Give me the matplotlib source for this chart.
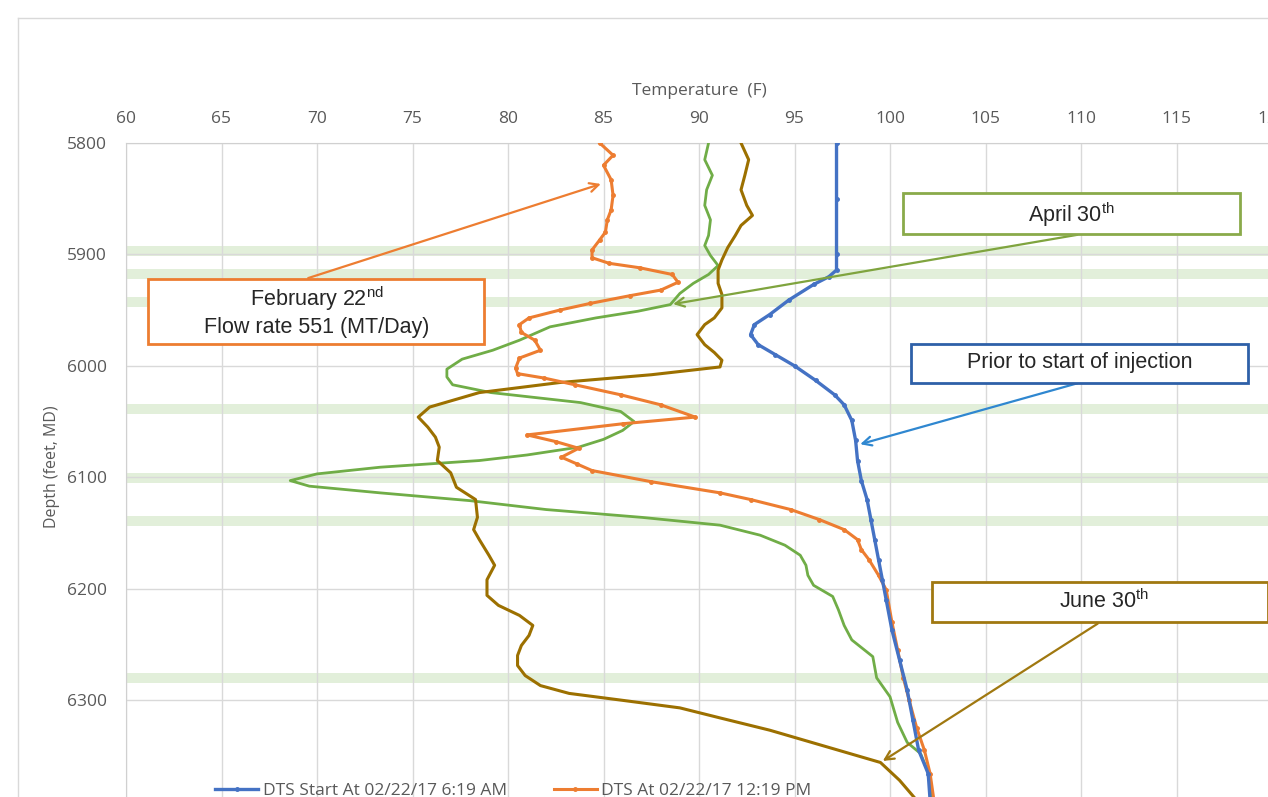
import matplotlib
matplotlib.use('Agg')
import matplotlib.pyplot as plt
from matplotlib.patches import Rectangle
from matplotlib.lines import Line2D

plt.rcParams['font.family'] = ['Open Sans', 'DejaVu Sans']
plt.rcParams['mathtext.fontset'] = 'custom'
plt.rcParams['mathtext.rm'] = 'Liberation Sans'

# 注入前 (蓝)
depth_blue = [5800, 5850, 5900, 5914, 5920, 5927, 5941, 5954, 5963, 5972, 5981, 5990, 6000, 6013,
              6026, 6035, 6049, 6067, 6085, 6103, 6120, 6138, 6156, 6174, 6192, 6210, 6237, 6264,
              6291, 6318, 6345, 6366, 6390]
temp_blue = [97.2, 97.2, 97.2, 97.2, 96.8, 96.0, 94.7, 93.7, 92.9, 92.7, 93.1, 94.0, 95.0, 96.1,
             97.1, 97.6, 98.0, 98.2, 98.3, 98.5, 98.8, 99.0, 99.2, 99.4, 99.6, 99.8, 100.1, 100.5,
             100.9, 101.2, 101.5, 102.0, 102.1]

# 2月22日 (橙)
depth_orange = [5800, 5811, 5820, 5833, 5847, 5860, 5869, 5880, 5887, 5896, 5903, 5908, 5912, 5918,
                5925, 5932, 5937, 5944, 5950, 5957, 5963, 5970, 5977, 5986, 5993, 6002, 6007, 6011,
                6017, 6026, 6035, 6046, 6052, 6062, 6068, 6074, 6082, 6088, 6094, 6104, 6114, 6120,
                6129, 6138, 6147, 6156, 6165, 6174, 6188, 6201, 6230, 6255, 6280, 6300, 6325, 6345,
                6366, 6390]
temp_orange = [84.8, 85.5, 85.0, 85.4, 85.5, 85.4, 85.2, 85.1, 84.8, 84.4, 84.4, 85.3, 86.9, 88.6,
               88.9, 88.0, 86.4, 84.3, 82.7, 81.1, 80.6, 80.7, 81.4, 81.7, 80.6, 80.4, 80.5, 81.9,
               83.5, 85.9, 88.0, 89.8, 86.0, 81.0, 82.5, 83.7, 82.8, 83.6, 84.4, 87.5, 91.1, 92.7,
               94.8, 96.3, 97.6, 98.3, 98.5, 98.9, 99.4, 99.8, 100.1, 100.4, 100.7, 101.0, 101.4, 101.8,
               102.1, 102.3]

# 4月30日 (绿)
depth_green = [5800, 5815, 5829, 5842, 5856, 5869, 5883, 5892, 5901, 5910, 5918, 5926, 5935, 5945,
               5951, 5957, 5965, 5977, 5986, 5994, 6003, 6010, 6017, 6024, 6033, 6041, 6050, 6058,
               6066, 6073, 6080, 6085, 6091, 6097, 6103, 6108, 6114, 6121, 6129, 6136, 6143, 6152,
               6161, 6170, 6179, 6188, 6197, 6207, 6219, 6233, 6246, 6261, 6280, 6297, 6320, 6338,
               6348, 6369, 6390]
temp_green = [90.5, 90.3, 90.7, 90.4, 90.3, 90.6, 90.5, 90.3, 90.6, 91.0, 90.5, 89.7, 89.0, 88.5,
              86.8, 84.6, 82.2, 80.6, 79.2, 77.6, 76.8, 76.8, 77.1, 79.1, 83.8, 85.9, 86.6, 86.0,
              85.0, 83.7, 81.0, 78.5, 73.3, 70.0, 68.6, 69.6, 73.3, 78.0, 82.0, 87.0, 91.1, 93.2,
              94.5, 95.3, 95.6, 95.7, 96.0, 97.0, 97.3, 97.6, 98.0, 99.1, 99.3, 100.0, 100.4, 100.9,
              101.6, 102.1, 102.2]

# 6月30日 (棕)
depth_brown = [5800, 5815, 5829, 5842, 5856, 5865, 5874, 5883, 5894, 5905, 5914, 5926, 5936, 5948,
               5957, 5963, 5972, 5981, 5988, 5995, 6001, 6008, 6015, 6024, 6037, 6046, 6055, 6064,
               6073, 6085, 6096, 6109, 6120, 6136, 6147, 6156, 6170, 6179, 6192, 6206, 6215, 6224,
               6233, 6242, 6251, 6260, 6269, 6278, 6287, 6294, 6300, 6307, 6316, 6327, 6340, 6356,
               6372, 6390]
temp_brown = [92.2, 92.6, 92.4, 92.2, 92.5, 92.8, 92.2, 91.9, 91.5, 91.2, 91.0, 91.0, 91.2, 91.2,
              90.8, 90.3, 89.9, 90.3, 90.8, 91.2, 91.1, 87.5, 82.7, 78.5, 75.9, 75.3, 75.8, 76.2,
              76.4, 76.3, 77.0, 77.3, 78.3, 78.4, 78.2, 78.5, 79.0, 79.3, 78.9, 78.9, 79.5, 80.6,
              81.3, 81.1, 80.7, 80.5, 80.5, 80.9, 81.7, 83.2, 85.9, 89.0, 91.1, 93.7, 96.3, 99.5,
              100.5, 101.4]

# 射孔层段 (绿色带)
band_depths = [5897, 5918, 5943, 6039, 6101, 6139, 6280]
band_half = 4.5

legend_labels = ['DTS Start At 02/22/17 6:19 AM', 'DTS At 02/22/17 12:19 PM']

c_blue = '#4472c4'
c_orange = '#ed7d31'
c_green = '#70ad47'
c_brown = '#9c7000'
gray = '#595959'

fig = plt.figure(figsize=(12.68, 7.97), dpi=100)
ax = fig.add_axes([126 / 1268, 1 - 811.5 / 797, 1146 / 1268, 668.5 / 797])

# 外框
fig.add_artist(Line2D([18 / 1268, 18 / 1268], [-0.1, 1 - 18 / 797], color='#d9d9d9', lw=1,
                      transform=fig.transFigure))
fig.add_artist(Line2D([18 / 1268, 1.1], [1 - 18 / 797, 1 - 18 / 797], color='#d9d9d9', lw=1,
                      transform=fig.transFigure))

for d in band_depths:
    ax.axhspan(d - band_half, d + band_half, color='#e2efda', zorder=0.3, lw=0)

l1, = ax.plot(temp_blue, depth_blue, color=c_blue, lw=2.4, marker='o', ms=2.5, zorder=5)
l2, = ax.plot(temp_orange, depth_orange, color=c_orange, lw=2.2, marker='o', ms=2.5, zorder=4)
ax.plot(temp_green, depth_green, color=c_green, lw=2, zorder=3)
ax.plot(temp_brown, depth_brown, color=c_brown, lw=2.2, zorder=3)

ax.set_xlim(60, 120)
ax.set_ylim(6400, 5800)
ax.set_xticks(range(60, 121, 5))
ax.set_yticks(range(5800, 6401, 100))
ax.xaxis.tick_top()
ax.xaxis.set_label_position('top')
ax.tick_params(length=0, labelsize=12.5, labelcolor=gray)
ax.tick_params(axis='x', pad=11.5)
ax.tick_params(axis='y', pad=14)
ax.grid(True, color='#d9d9d9', lw=1)
ax.set_axisbelow(True)
for s in ['right', 'bottom']:
    ax.spines[s].set_visible(False)
for s in ['left', 'top']:
    ax.spines[s].set_color('#d0d0d0')

ax.set_xlabel('Temperature  (F)', fontsize=12.5, color=gray)
ax.xaxis.set_label_coords(0.5, (811.5 - 95) / 668.5)
ax.set_ylabel('Depth (feet, MD)', fontsize=11.5, color=gray)
ax.yaxis.set_label_coords(-0.058, 0.516)

tf = dict(fontsize=15.5, color='#262626', family='Liberation Sans', ha='center', va='center', zorder=8)


def box(x0, x1, d0, d1, color):
    ax.add_patch(Rectangle((x0, d0), x1 - x0, d1 - d0, fill=True, facecolor='white',
                           edgecolor=color, lw=2, zorder=7, clip_on=False))


def arrow(tail, tip, color):
    ax.annotate('', xy=tip, xytext=tail,
                arrowprops=dict(arrowstyle='->', color=color, lw=1.6, mutation_scale=16), zorder=6)


# 2月22日
arrow((69.4, 5922), (85.0, 5836), c_orange)
box(61.15, 78.74, 5922, 5980, c_orange)
ax.text(70.0, 5940, 'February 22$^{\\mathrm{nd}}$', **tf)
ax.text(70.0, 5966, 'Flow rate 551 (MT/Day)', **tf)

# 4月30日
arrow((109.95, 5882), (88.5, 5945), '#7fa43e')
box(100.68, 118.32, 5845, 5882, '#8aaa4a')
ax.text(109.5, 5864, 'April 30$^{\\mathrm{th}}$', **tf)

# 注入前
arrow((109.95, 6015), (98.3, 6071), '#2f87d0')
box(101.1, 118.74, 5980, 6015, '#2e60a8')
ax.text(109.95, 5997, 'Prior to start of injection', **tf)

# 6月30日
arrow((111.0, 6230), (99.5, 6356), '#a07810')
box(102.2, 119.8, 6194, 6230, '#a07810')
ax.text(111.2, 6211, 'June 30$^{\\mathrm{th}}$', **tf)

fig.legend([l1, l2], legend_labels, loc='center left', bbox_to_anchor=(215 / 1268, 1 - 791 / 797),
           ncol=2, frameon=False, fontsize=12.5, labelcolor=gray, handlelength=2.5,
           handletextpad=0.25, columnspacing=2.7, borderpad=0, borderaxespad=0)

fig.savefig('out.png', dpi=100)
